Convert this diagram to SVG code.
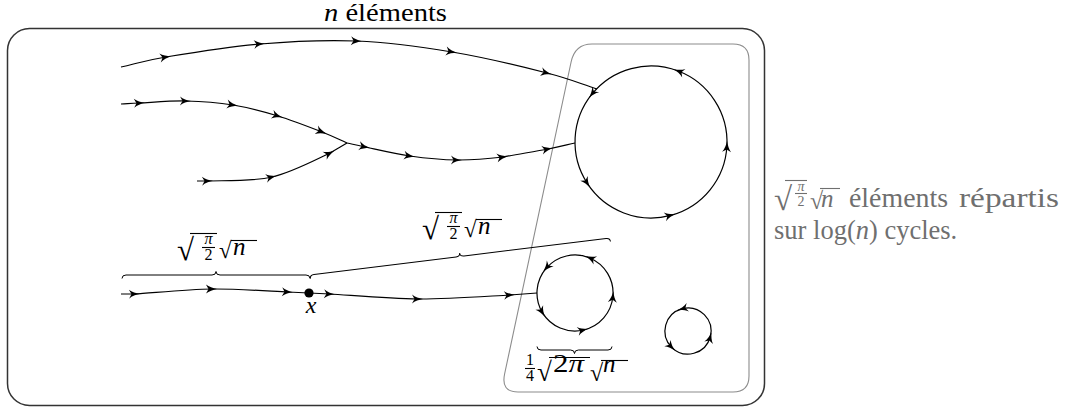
<svg xmlns="http://www.w3.org/2000/svg" width="1069" height="410" viewBox="0 0 1069 410">
<defs>
<style>
.t{font-family:"Liberation Serif","Times New Roman",serif;fill:#000}
.i{font-style:italic}
.gr{fill:#6f6f6f}
.c{fill:none;stroke:#000;stroke-width:1.2;marker-mid:url(#ar)}
.b{fill:none;stroke:#000;stroke-width:1}
.v{stroke:#000;stroke-width:1.1}
.vg{stroke:#6f6f6f;stroke-width:1.1}
</style>
<marker id="ar" markerUnits="userSpaceOnUse" markerWidth="20" markerHeight="20" viewBox="-10 -10 20 20" refX="0" refY="0" orient="auto">
<path d="M5,0 C1,0.8 -3,2 -6,4.5 L-3.5,0 L-6,-4.5 C-3,-2 1,-0.8 5,0 Z" fill="#000"/>
</marker>
</defs>

<g id="frame">
<rect x="7.5" y="28.5" width="757" height="377" rx="22" ry="22" fill="none" stroke="#333" stroke-width="1.5"/>
</g>
<g id="cycles-zone">
<path d="M592,44 L733,44 Q749,44 749,60 L749,376 Q749,392 733,392 L518,392 Q500.8,392 504.6,374 L571.1,62 Q574.9,44 592,44 Z" fill="none" stroke="#8c8c8c" stroke-width="1.1"/>
</g>

<g id="title">
<text class="t" x="324" y="21" font-size="25" textLength="123" lengthAdjust="spacingAndGlyphs"><tspan class="i">n</tspan> éléments</text>
</g>

<g id="connectors">
<path class="c" d="M121,67 C136,63.7 142.8,60.8 166,57 C189.2,53.2 228.2,46.7 260,44 C291.8,41.3 325,39.7 357,41 C389,42.3 420.3,46.7 452,52 C483.7,57.3 522.8,66.8 547,73 C571.2,79.2 580.3,83.7 597,89"/>
<path class="c" d="M121,104 C127.3,103.7 129.2,103.5 140,103 C150.8,102.5 170.5,100.7 186,101 C201.5,101.3 217.7,102.5 233,105 C248.3,107.5 263.2,111.5 278,116 C292.8,120.5 310.5,127.5 322,132 C333.5,136.5 338.7,139.3 347,143"/>
<path class="c" d="M347,143 C353,144.3 354.5,144.8 365,147 C375.5,149.2 394.7,153.8 410,156 C425.3,158.2 441.5,159.8 457,160 C472.5,160.2 487.8,158.8 503,157 C515,154.7 536,151.3 548,149 C560,146.7 566,145 575,143"/>
<path class="c" d="M197,181 C200.7,181 204.3,181 208,181 C220.5,180.3 251.7,181.7 272,177 C292.3,172.3 317.5,158.7 330,153 C335.7,149.7 341.3,146.3 347,143"/>
<path class="c" d="M121,294 C125.7,294 130.3,294 135,294 C150.2,293.2 186.5,289.3 212,289 C237.5,288.7 271.8,291.3 288,292 C295,292.3 302,292.7 309,293"/>
<path class="c" d="M309,293 C316,293.3 323,293.7 330,294 C348.2,295 388,298.8 418,299 C448,299.2 490.2,296 510,295 C519,294.3 528,293.7 537,293"/>
</g>

<g id="cycle-big">
<path class="c" d="M714.7,100.6 A76,76 0 0 0 678.2,71.05 A76,76 0 0 0 591.9,94.2 A76,76 0 0 0 587.3,183.4 A76,76 0 0 0 670.7,215.4 A76,76 0 0 0 726.9,146 A76,76 0 0 0 714.7,100.6"/>
</g>
<g id="cycle-mid">
<path class="c" d="M607.6,273.4 A38,38 0 0 0 589.8,258 A38,38 0 0 0 546.3,268.1 A38,38 0 0 0 542.4,312.6 A38,38 0 0 0 583.6,330 A38,38 0 0 0 612.9,296.3 A38,38 0 0 0 607.6,273.4"/>
</g>
<g id="cycle-small">
<path class="c" d="M704.3,314.7 A23,23 0 0 0 682,308.8 A23,23 0 0 0 671.7,347.3 A23,23 0 0 0 710.2,337 A23,23 0 0 0 704.3,314.7"/>
</g>

<g id="node-x">
<circle cx="309" cy="293" r="4.6" fill="#000"/>
<text class="t i" x="311" y="313" font-size="24" text-anchor="middle">x</text>
</g>

<g id="brace-1">
<path class="b" transform="translate(122,275)" d="M0,3.5 Q0,0 4,0 L90,0 Q94,0 94,-3.5 Q94,0 98,0 L184,0 Q188,0 188,3.5"/>
</g>
<g id="brace-2">
<path class="b" transform="translate(310,275) rotate(-7.03)" d="M0,3.5 Q0,0 4,0 L147.2,0 Q151.2,0 151.2,-3.5 Q151.2,0 155.2,0 L298.3,0 Q302.3,0 302.3,3.5"/>
</g>
<g id="brace-3">
<path class="b" transform="translate(612,350) rotate(180)" d="M0,3.5 Q0,0 4,0 L33.5,0 Q37.5,0 37.5,-3.5 Q37.5,0 41.5,0 L71,0 Q75,0 75,3.5"/>
</g>

<g id="label-a">
<text class="t" x="177" y="260" font-size="31">√</text>
<line class="v" x1="190" y1="233.5" x2="217" y2="233.5"/>
<text class="t i" x="208.5" y="244" font-size="16" text-anchor="middle">π</text>
<line class="v" x1="202" y1="247.5" x2="215" y2="247.5"/>
<text class="t" x="208.5" y="260" font-size="16" text-anchor="middle">2</text>
<text class="t" x="219" y="258" font-size="23">√</text>
<line class="v" x1="231" y1="240.5" x2="257" y2="240.5"/>
<text class="t i" x="233" y="255" font-size="25">n</text>
</g>

<g id="label-b" transform="translate(245,-21)">
<text class="t" x="177" y="260" font-size="31">√</text>
<line class="v" x1="190" y1="233.5" x2="217" y2="233.5"/>
<text class="t i" x="208.5" y="244" font-size="16" text-anchor="middle">π</text>
<line class="v" x1="202" y1="247.5" x2="215" y2="247.5"/>
<text class="t" x="208.5" y="260" font-size="16" text-anchor="middle">2</text>
<text class="t" x="219" y="258" font-size="23">√</text>
<line class="v" x1="231" y1="240.5" x2="257" y2="240.5"/>
<text class="t i" x="233" y="255" font-size="25">n</text>
</g>

<g id="label-c">
<text class="t" x="530" y="365" font-size="16" text-anchor="middle">1</text>
<line class="v" x1="525" y1="368.5" x2="535" y2="368.5"/>
<text class="t" x="530" y="381" font-size="16" text-anchor="middle">4</text>
<text class="t" x="537" y="381" font-size="27">√</text>
<line class="v" x1="549" y1="357.5" x2="590" y2="357.5"/>
<text class="t" x="553" y="372" font-size="25" textLength="31" lengthAdjust="spacingAndGlyphs">2<tspan class="i">π</tspan></text>
<text class="t" x="590" y="381" font-size="24">√</text>
<line class="v" x1="601" y1="360.5" x2="628" y2="360.5"/>
<text class="t i" x="603" y="372" font-size="25">n</text>
</g>

<g id="note">
<text class="t gr" x="774" y="210" font-size="33">√</text>
<line class="vg" x1="785" y1="180.5" x2="807" y2="180.5"/>
<text class="t gr i" x="801" y="190.5" font-size="14" text-anchor="middle">π</text>
<line class="vg" x1="795" y1="193.5" x2="807" y2="193.5"/>
<text class="t gr" x="801" y="206" font-size="14" text-anchor="middle">2</text>
<text class="t gr" x="810" y="209" font-size="24">√</text>
<line class="vg" x1="820" y1="188.5" x2="840" y2="188.5"/>
<text class="t gr i" x="821" y="207" font-size="25">n</text>
<text class="t gr" x="849" y="207" font-size="27"><tspan textLength="99" lengthAdjust="spacingAndGlyphs">éléments</tspan> <tspan x="959" textLength="100" lengthAdjust="spacingAndGlyphs">répartis</tspan></text>
<text class="t gr" x="774" y="239" font-size="26.5">sur log(<tspan class="i">n</tspan>) cycles.</text>
</g>
</svg>
